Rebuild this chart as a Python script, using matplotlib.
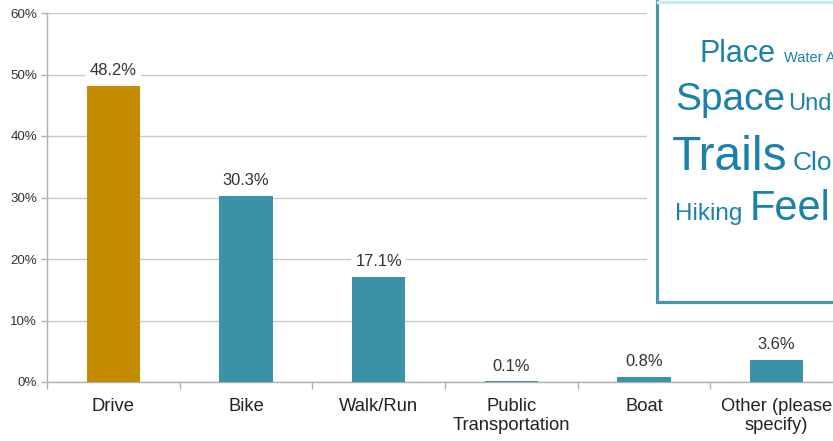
import matplotlib
matplotlib.use("Agg")
import numpy as np
from matplotlib import pyplot as plt
from matplotlib.patches import Rectangle

plt.rcParams['font.family'] = ['Liberation Sans', 'DejaVu Sans']

# data
categories = ['Drive', 'Bike', 'Walk/Run', 'Public\nTransportation', 'Boat', 'Other (please\nspecify)']
values = [48.2, 30.3, 17.1, 0.1, 0.8, 3.6]
bar_colors = ['#c48c00', '#3a91a8', '#3a91a8', '#3a91a8', '#3a91a8', '#3a91a8']
yticks = [0, 10, 20, 30, 40, 50, 60]

# word cloud fragment (word, font size)
cloud_words = [('Place', 22), ('Water A', 10.5), ('Space', 28), ('Und', 17),
               ('Trails', 34.5), ('Clo', 19), ('Hiking', 17.5), ('Feel', 30)]
# left x / baseline y in pixels of the 833x441 picture
cloud_pos = [(700, 62), (784, 62), (675, 110), (788, 110),
             (672, 170), (793, 170), (675, 220), (750, 220)]

W, H = 833, 441
fig = plt.figure(figsize=(W / 100, H / 100), dpi=100)
# the plot runs off the right edge of the picture
ax = fig.add_axes([47 / W, (H - 382) / H, 796 / W, 369 / H])

x = np.arange(len(categories))
ax.bar(x, values, width=0.4, color=bar_colors, zorder=3)

for xi, v in zip(x, values):
    ax.annotate(f'{v:.1f}%', (xi, v), xytext=(0, 11), textcoords='offset points',
                ha='center', va='center', fontsize=11.9, color='#333333', zorder=4,
                bbox=dict(boxstyle='square,pad=0.25', fc='white', ec='none'))

ax.set_xlim(-0.5, len(categories) - 0.5)
ax.set_ylim(0, 60)
ax.set_yticks(yticks)
ax.set_yticklabels([f'{t}%' for t in yticks], fontsize=9.6, color='#333333')
ax.set_xticks(x)
ax.set_xticklabels(categories, fontsize=13.2, color='#222222', linespacing=1.15)
ax.set_xticks(np.arange(len(categories) + 1) - 0.5, minor=True)
ax.tick_params(axis='x', which='major', length=0, pad=11.5)
ax.tick_params(axis='x', which='minor', length=5, color='#b0b0b0', width=1)
ax.tick_params(axis='y', length=4, color='#b0b0b0', width=1, pad=3)

ax.grid(axis='y', color='#c8c8c8', linewidth=1, zorder=0)
ax.set_axisbelow(True)
for side in ['top', 'right']:
    ax.spines[side].set_visible(False)
for side in ['left', 'bottom']:
    ax.spines[side].set_color('#b0b0b0')
    ax.spines[side].set_linewidth(1)

# word cloud box over the top right corner
def fxy(xp, yp):
    return xp / W, 1 - yp / H

fig.add_artist(Rectangle(fxy(647, 306), 200 / W, 320 / H, transform=fig.transFigure,
                         fc='white', ec='none', zorder=5))
fig.add_artist(Rectangle(fxy(656.5, 301.5), 200 / W, 310 / H, transform=fig.transFigure,
                         fc='white', ec='#4596ad', lw=2.3, zorder=6))
fig.add_artist(plt.Line2D([658 / W, 1], [1 - 1.5 / H, 1 - 1.5 / H], transform=fig.transFigure,
                          color='#cdeaf2', lw=2.5, zorder=7))

for (word, size), (xp, yp) in zip(cloud_words, cloud_pos):
    fx, fy = fxy(xp, yp)
    fig.text(fx, fy, word, fontsize=size, color='#1a82aa', ha='left', va='baseline', zorder=8)

fig.savefig('out.png', dpi=100)
